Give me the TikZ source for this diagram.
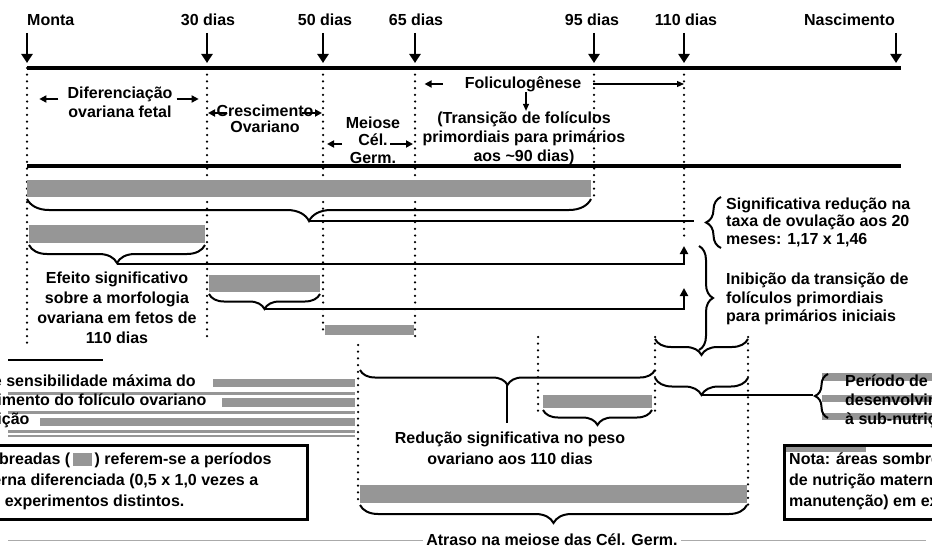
\documentclass[tikz,border=0pt]{standalone}
\usepackage{fontspec}
\setmainfont{Liberation Sans}
\usepackage{xcolor}
\usetikzlibrary{positioning,arrows.meta,decorations.pathreplacing}
\definecolor{barGray}{RGB}{150,150,150}
\definecolor{rulerGray}{RGB}{170,170,170}

\begin{document}
\begin{tikzpicture}[
    x=1pt, y=-1pt,
    every node/.style={font=\bfseries\fontsize{16}{18}\selectfont, inner sep=0pt},
    leading/.style={font=\bfseries\fontsize{16}{#1}\selectfont},
    axis/.style={line width=3.2pt},
    tick/.style={line width=2.6pt, -{Triangle[width=11pt,length=9pt]}},
    guide/.style={line width=2.5pt, dash pattern=on 0pt off 6.7pt, line cap=round},
    curly/.style={decorate, decoration={brace, mirror, amplitude=#1}, line width=2pt},
    link/.style={line width=2pt},
    uparrow/.style={line width=2pt, -{Triangle[width=8pt,length=8pt]}},
    txtarrow/.style={line width=1.8pt, -{Triangle[width=7pt,length=7pt]}},
    thinarrow/.style={line width=1.2pt, -{Triangle[width=6pt,length=7pt]}},
    notebox/.style={draw, line width=3pt}
]
\useasboundingbox (0,0) rectangle (932,551);
\clip (0,0) rectangle (932,551);

% linha do tempo
\node[anchor=base west] (monta) at (27,26) {Monta};
\node[anchor=base] (d30) at (208,26) {30 dias};
\node[anchor=base] (d50) at (325,26) {50 dias};
\node[anchor=base] (d65) at (416,26) {65 dias};
\node[anchor=base] (d95) at (592,26) {95 dias};
\node[anchor=base] (d110) at (686,26) {110 dias};
\node[anchor=base east] (nasc) at (895,26) {Nascimento};
\foreach \n/\xx in {monta/27, d30/207, d50/323, d65/415, d95/594, d110/684, nasc/896} {
    \coordinate (g\n) at (\xx,68);
    \draw[tick] (\xx,33) -- (\xx,63);
}
\draw[axis] (27,68) -- (901,68);
\draw[axis] (27,166) -- (901,166);
\foreach \n/\yy in {monta/345, d30/340, d50/332, d65/336, d95/197, d110/238}
    \draw[guide] (g\n) -- (g\n |- 0,\yy);

% fases
\node[align=center, leading=19] (dif) at (120,102) {Diferenciação\\ovariana fetal};
\draw[txtarrow] ([shift={(-9,-3)}]dif.west) -- +(-19,0);
\draw[txtarrow] ([shift={(4,-3)}]dif.east) -- +(22,0);
\node[align=center, leading=15.5] (cres) at (265,119) {Crescimento\\Ovariano};
\draw[txtarrow] ([shift={(-38,-6)}]cres.center) -- +(-19,0);
\draw[txtarrow] ([shift={(37,-6)}]cres.center) -- +(20,0);
\node[align=center, leading=17.5] (mei) at (373,140) {Meiose\\Cél.\\Germ.};
\draw[txtarrow] ([shift={(-31,4)}]mei.center) -- +(-15,0);
\draw[txtarrow] ([shift={(17,4)}]mei.center) -- +(23,0);
\node (fol) at (523,84) {Foliculogênese};
\draw[txtarrow] ([xshift=-22pt]fol.west) -- +(-18,0);
\draw[thinarrow] ([xshift=12pt]fol.east) -- (fol.east -| gd110);
\draw[thinarrow] ([xshift=3pt]fol.south) -- +(0,19);
\node[align=center, leading=19] (trans) at (524,138) {(Transição de folículos\\primordiais para primários\\aos \textasciitilde 90 dias)};

% efeitos
\fill[barGray] (27,180) rectangle (591,197);
\draw[curly=22] (27,199) -- (591,199);
\coordinate (tip1) at (309,221);
\draw[link] (tip1) -- (694,221);
\draw[curly=15] (721,197) -- (721,248);
\node[anchor=west, align=left, leading=17.5] (sig) at (726,222) {Significativa redução na\\taxa de ovulação aos 20\\meses: 1,17 x 1,46};

\fill[barGray] (29,225) rectangle (205,243);
\draw[curly=18] (29,245) -- (205,245);
\coordinate (tip2) at (117,264);
\draw[uparrow] (tip2) -| (684,246);
\begin{scope}
    \clip (0,250) rectangle (206,343);
    \node[align=center, leading=20] (efe) at (117,308) {Efeito significativo\\sobre a morfologia\\ovariana em fetos de\\110 dias};
\end{scope}

\fill[barGray] (209,275) rectangle (320,292);
\draw[curly=15] (209,294) -- (320,294);
\coordinate (tip3) at (265,309);
\draw[uparrow] (tip3) -| (684,288);

\draw[curly=14] (699,350) -- (699,246);
\node[anchor=west, align=left, leading=18.5] (inib) at (726,299) {Inibição da transição de\\folículos primordiais\\para primários iniciais};

\fill[barGray] (325,325) rectangle (414,335);
\draw[line width=1.5pt] (8,360) -- (103,360);

% parte inferior
\foreach \xa/\ya/\xb/\yb in {213/379/355/387, 8/392/355/395, 222/398/355/407, 8/411/355/414,
    40/418/355/426, 8/430/355/433, 8/435/355/437, 822/373/932/381, 822/395/932/402,
    822/413/932/420, 786/445/866/452}
    \fill[barGray] (\xa,\ya) rectangle (\xb,\yb);
\foreach \xx/\ya/\yb in {358/345/505, 538/337/412, 655/337/415, 748/337/505}
    \draw[guide] (\xx,\ya) -- (\xx,\yb);

\draw[curly=15] (360,370) -- (655,370);
\coordinate (tip4) at (507,385);
\node[align=center, leading=21] (red) at (510,448) {Redução significativa no peso\\ovariano aos 110 dias};
\draw[link] (tip4) -- (tip4 |- 0,423);
\fill[barGray] (543,395) rectangle (652,408);
\draw[curly=15] (543,410) -- (652,410);

\draw[curly=16] (655,339) -- (748,339);
\draw[curly=17] (655,378) -- (748,378);
\coordinate (tip5) at (701.5,395);
\draw[link] (tip5) -- (813,395);
\draw[curly=13] (828,374) -- (828,418);
\foreach \k/\xx in {a/845, b/-81}
    \node[anchor=west, align=left, leading=19] (per\k) at (\xx,401) {Período de sensibilidade máxima do\\desenvolvimento do folículo ovariano\\à sub-nutrição};

\foreach \k/\xa/\xb/\xx in {a/784/1300/789, b/-400/307/-127} {
    \draw[notebox] (\xa,445) rectangle (\xb,519);
    \node[anchor=west, align=left, leading=21] (nota\k) at (\xx,481) {Nota: áreas sombreadas (\,\textcolor{barGray}{\rule[-2pt]{19pt}{13pt}}\,) referem-se a períodos\\de nutrição materna diferenciada (0,5 x 1,0 vezes a\\manutenção) em experimentos distintos.};
}

\fill[barGray] (360,485) rectangle (747,503);
\draw[curly=18] (360,505) -- (747,505);
\node (atraso) at (552,540) {Atraso na meiose das Cél. Germ.};
\draw[rulerGray, line width=0.8pt] (8,540) -- ([xshift=-3pt]atraso.west);
\draw[rulerGray, line width=0.8pt] ([xshift=3pt]atraso.east) -- (926,540);
\end{tikzpicture}
\end{document}
